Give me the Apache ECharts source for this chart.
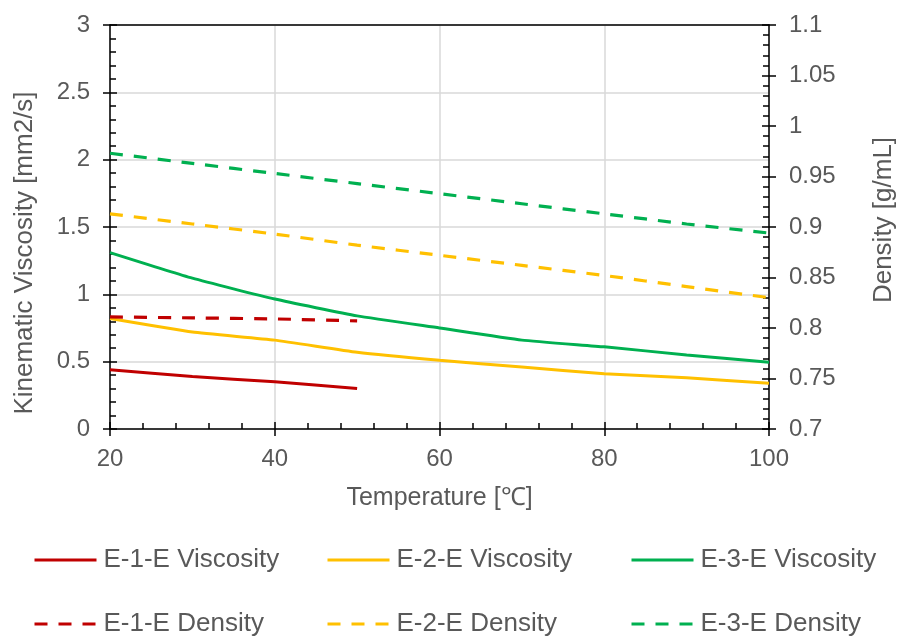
<!DOCTYPE html>
<html>
<head>
<meta charset="utf-8">
<script src="https://cdn.jsdelivr.net/npm/echarts@6/dist/echarts.min.js"></script>
<style>
  html, body { margin: 0; padding: 0; background: #fff; }
  #chart { width: 899px; height: 637px; }
</style>
</head>
<body>
<div id="chart"></div>
<script>
// temperature points [°C]
const temps = [20, 30, 40, 50, 60, 70, 80, 90, 100];
const tempsE1 = [20, 30, 40, 50];

// kinematic viscosity [mm2/s]
const e1Viscosity = [0.44, 0.39, 0.35, 0.30];
const e2Viscosity = [0.82, 0.72, 0.66, 0.57, 0.51, 0.46, 0.41, 0.38, 0.34];
const e3Viscosity = [1.31, 1.12, 0.965, 0.84, 0.75, 0.66, 0.61, 0.55, 0.495];

// density [g/mL]
const e1Density = [0.811, 0.810, 0.809, 0.807];
const e2Density = [0.913, 0.903, 0.893, 0.882, 0.872, 0.862, 0.852, 0.841, 0.830];
const e3Density = [0.973, 0.963, 0.953, 0.943, 0.933, 0.923, 0.913, 0.903, 0.894];

const legendRow1 = ['E-1-E Viscosity', 'E-2-E Viscosity', 'E-3-E Viscosity'];
const legendRow2 = ['E-1-E Density', 'E-2-E Density', 'E-3-E Density'];

const colors = ['#C00000', '#FFC000', '#00B050'];
const font = 'Liberation Sans';
const textColor = '#595959';

const pairs = (xs, ys) => xs.map((x, i) => [x, ys[i]]);

function lineSeries(name, xs, ys, color, yIdx, dashed) {
  return {
    name: name,
    type: 'line',
    xAxisIndex: 0,
    yAxisIndex: yIdx,
    symbol: 'none',
    smooth: 0.15,
    data: pairs(xs, ys),
    lineStyle: { color: color, width: dashed ? 3.2 : 3, type: dashed ? [13, 11] : 'solid' },
    itemStyle: { color: color }
  }
}

const legendLefts = [33, 326, 630];
const legends = [];
legendRow1.forEach((n, i) => legends.push({ name: n, left: legendLefts[i], top: 547 }));
legendRow2.forEach((n, i) => legends.push({ name: n, left: legendLefts[i], top: 611 }));

const blackLine = { show: true, onZero: false, lineStyle: { color: '#000', width: 1.5 } };

let option = {
  animation: false,
  backgroundColor: '#fff',
  grid: { left: 110, right: 130, top: 25, bottom: 208, outerBoundsMode: 'none', containLabel: false },
  legend: legends.map(l => ({
    data: [l.name],
    left: l.left,
    top: l.top,
    padding: 0,
    itemWidth: 62,
    itemHeight: 14,
    itemGap: 0,
    selectedMode: false,
    itemStyle: { opacity: 0 },
    lineStyle: { width: 3 },
    textStyle: { fontFamily: font, fontSize: 26, color: textColor, padding: [0, 0, 0, 2] }
  })),
  xAxis: [
    {
      type: 'value', position: 'bottom', min: 20, max: 100, interval: 20,
      name: 'Temperature [℃]', nameLocation: 'middle', nameGap: 57,
      nameTextStyle: { fontFamily: font, fontSize: 25, color: textColor },
      axisLine: blackLine,
      axisTick: { show: true, inside: false, length: 7, lineStyle: { color: '#000', width: 1.5 } },
      axisLabel: { fontFamily: font, fontSize: 24, color: textColor, margin: 18 },
      splitLine: { show: true, lineStyle: { color: '#D9D9D9', width: 1.5 } }
    },
    {
      type: 'value', position: 'bottom', min: 20, max: 100, interval: 20,
      axisLine: { show: false },
      axisTick: { show: true, inside: true, length: 7, lineStyle: { color: '#000', width: 1.5 } },
      minorTick: { show: true, splitNumber: 5, length: 6, lineStyle: { color: '#000', width: 1.5 } },
      axisLabel: { show: false },
      splitLine: { show: false }
    },
    {
      type: 'value', position: 'top', min: 20, max: 100, interval: 20,
      axisLine: blackLine,
      axisTick: { show: false },
      axisLabel: { show: false },
      splitLine: { show: false }
    }
  ],
  yAxis: [
    {
      type: 'value', position: 'left', min: 0, max: 3, interval: 0.5,
      name: 'Kinematic Viscosity [mm2/s]', nameLocation: 'middle', nameGap: 72,
      nameTextStyle: { fontFamily: font, fontSize: 26, color: textColor, padding: [0, 52, 0, 0] },
      axisLine: blackLine,
      axisTick: { show: true, inside: false, length: 7, lineStyle: { color: '#000', width: 1.5 } },
      axisLabel: { fontFamily: font, fontSize: 24, color: textColor, margin: 20 },
      splitLine: { show: true, lineStyle: { color: '#D9D9D9', width: 1.5 } }
    },
    {
      type: 'value', position: 'left', min: 0, max: 3, interval: 0.5,
      axisLine: { show: false },
      axisTick: { show: true, inside: true, length: 7, lineStyle: { color: '#000', width: 1.5 } },
      minorTick: { show: true, splitNumber: 5, length: 6, lineStyle: { color: '#000', width: 1.5 } },
      axisLabel: { show: false },
      splitLine: { show: false }
    },
    {
      type: 'value', position: 'right', min: 0.7, max: 1.1, interval: 0.05,
      name: 'Density [g/mL]', nameLocation: 'middle', nameGap: 102,
      nameTextStyle: { fontFamily: font, fontSize: 26, color: textColor, padding: [0, 0, 0, 14] },
      axisLine: blackLine,
      axisTick: { show: true, inside: false, length: 7, lineStyle: { color: '#000', width: 1.5 } },
      axisLabel: { fontFamily: font, fontSize: 24, color: textColor, margin: 20 },
      splitLine: { show: false }
    },
    {
      type: 'value', position: 'right', min: 0.7, max: 1.1, interval: 0.05,
      axisLine: { show: false },
      axisTick: { show: true, inside: true, length: 7, lineStyle: { color: '#000', width: 1.5 } },
      minorTick: { show: true, splitNumber: 5, length: 6, lineStyle: { color: '#000', width: 1.5 } },
      axisLabel: { show: false },
      splitLine: { show: false }
    }
  ],
  series: [
    lineSeries(legendRow1[0], tempsE1, e1Viscosity, colors[0], 0, false),
    lineSeries(legendRow1[1], temps, e2Viscosity, colors[1], 0, false),
    lineSeries(legendRow1[2], temps, e3Viscosity, colors[2], 0, false),
    lineSeries(legendRow2[0], tempsE1, e1Density, colors[0], 2, true),
    lineSeries(legendRow2[1], temps, e2Density, colors[1], 2, true),
    lineSeries(legendRow2[2], temps, e3Density, colors[2], 2, true)
  ]
}

const chart = echarts.init(document.getElementById('chart'))
chart.setOption(option)
window.addEventListener('resize', chart.resize)
</script>
</body>
</html>
